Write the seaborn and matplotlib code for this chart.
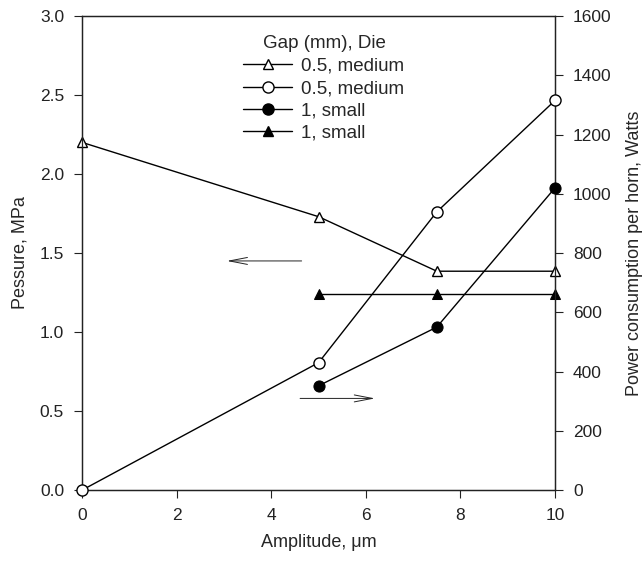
import matplotlib
matplotlib.use("Agg")
import matplotlib.pyplot as plt
import seaborn as sns
import pandas as pd
from matplotlib.lines import Line2D

sns.set_style("ticks")
plt.rcParams['font.family'] = ['Liberation Sans', 'DejaVu Sans']

amp_tri_open = [0, 5, 7.5, 10]
pres_tri_open = [2.20, 1.73, 1.385, 1.385]
amp_circ_open = [0, 5, 7.5, 10]
power_circ_open = [0, 430, 939, 1315]
amp_circ_fill = [5, 7.5, 10]
power_circ_fill = [352, 550, 1020]
amp_tri_fill = [5, 7.5, 10]
pres_tri_fill = [1.24, 1.24, 1.24]

labels = ["0.5, medium", "0.5, medium", "1, small", "1, small"]

fig = plt.figure(figsize=(6.42, 5.62), dpi=100)
ax = fig.add_axes([0.128, 0.128, 0.7365, 0.8435])
ax2 = ax.twinx()

lw = 1.0
ms = 7
sns.lineplot(x=amp_tri_open, y=pres_tri_open, ax=ax, color='black', lw=lw,
             marker='^', markersize=ms, markerfacecolor='white', markeredgecolor='black',
             markeredgewidth=1.0, clip_on=False, zorder=3)
sns.lineplot(x=amp_tri_fill, y=pres_tri_fill, ax=ax, color='black', lw=lw,
             marker='^', markersize=ms, markerfacecolor='black', markeredgecolor='black',
             clip_on=False, zorder=3)
sns.lineplot(x=amp_circ_open, y=power_circ_open, ax=ax2, color='black', lw=lw,
             marker='o', markersize=ms + 1, markerfacecolor='white', markeredgecolor='black',
             markeredgewidth=1.0, clip_on=False, zorder=3)
sns.lineplot(x=amp_circ_fill, y=power_circ_fill, ax=ax2, color='black', lw=lw,
             marker='o', markersize=ms + 1, markerfacecolor='black', markeredgecolor='black',
             clip_on=False, zorder=3)

ax.set_xlim(0, 10)
ax.set_ylim(0, 3.0)
ax2.set_ylim(0, 1600)
ax.set_xticks([0, 2, 4, 6, 8, 10])
ax.set_yticks([0, 0.5, 1.0, 1.5, 2.0, 2.5, 3.0])
ax.set_yticklabels([f"{v:.1f}" for v in [0, 0.5, 1.0, 1.5, 2.0, 2.5, 3.0]])
ax2.set_yticks([0, 200, 400, 600, 800, 1000, 1200, 1400, 1600])

fs = 12.5
for a in (ax, ax2):
    a.tick_params(direction='out', length=6, width=0.8, labelsize=fs, colors='#222222')
    for s in a.spines.values():
        s.set_linewidth(0.9)
        s.set_color('#222222')
ax.tick_params(axis='y', pad=7)
ax.tick_params(axis='x', pad=7)
ax2.tick_params(axis='y', pad=7)

ax.set_xlabel("Amplitude, μm", fontsize=13, labelpad=8)
ax.set_ylabel("Pessure, MPa", fontsize=13, labelpad=8)
ax2.set_ylabel("Power consumption per horn, Watts", fontsize=13, labelpad=10)

# arrows
ax.annotate("", xy=(3.0, 1.45), xytext=(4.7, 1.45),
            arrowprops=dict(arrowstyle='->,head_length=1.3,head_width=0.25', lw=0.7, color='#222222'))
ax.annotate("", xy=(6.25, 0.58), xytext=(4.55, 0.58),
            arrowprops=dict(arrowstyle='->,head_length=1.3,head_width=0.25', lw=0.7, color='#222222'))

handles = [
    Line2D([], [], color='black', lw=lw, marker='^', markersize=ms, markerfacecolor='white'),
    Line2D([], [], color='black', lw=lw, marker='o', markersize=ms + 1, markerfacecolor='white'),
    Line2D([], [], color='black', lw=lw, marker='o', markersize=ms + 1, markerfacecolor='black'),
    Line2D([], [], color='black', lw=lw, marker='^', markersize=ms, markerfacecolor='black'),
]
if ax.get_legend():
    ax.get_legend().remove()
if ax2.get_legend():
    ax2.get_legend().remove()
leg = ax.legend(handles, labels, title="Gap (mm), Die", loc='upper left',
                bbox_to_anchor=(0.325, 0.975), frameon=False, fontsize=13.5,
                title_fontsize=13.5, handlelength=2.6, labelspacing=0.28,
                handletextpad=0.5, borderaxespad=0)

fig.savefig("out.png", dpi=100)
